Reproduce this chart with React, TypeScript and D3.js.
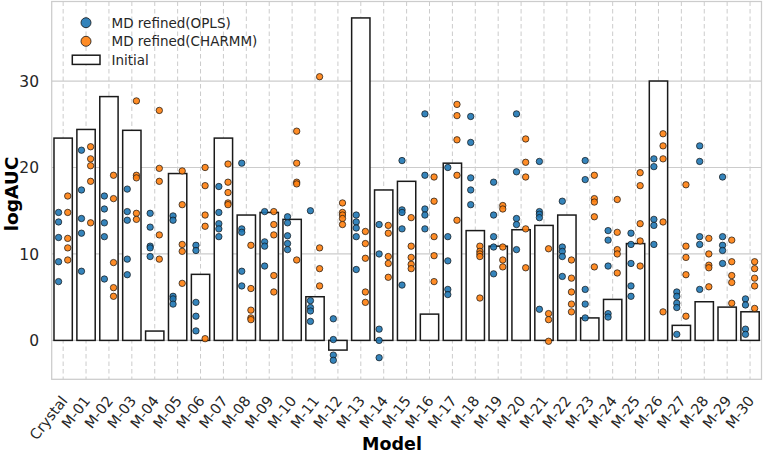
import React from "react";
import * as d3 from "d3";

const categories = ["Crystal","M-01","M-02","M-03","M-04","M-05","M-06","M-07","M-08","M-09","M-10","M-11","M-12","M-13","M-14","M-15","M-16","M-17","M-18","M-19","M-20","M-21","M-22","M-23","M-24","M-25","M-26","M-27","M-28","M-29","M-30"];

const initialValues = [23.4, 24.4, 28.2, 24.3, 1.08, 19.3, 7.64, 23.4, 14.5, 14.8, 14.0, 5.05, -1.12, 37.3, 17.4, 18.4, 3.04, 20.5, 12.7, 10.9, 12.8, 13.3, 14.5, 2.6, 4.74, 11.2, 30.0, 1.74, 4.47, 3.85, 3.31];

const oplsValues = [
  [14.8, 13.7, 11.9, 9.1, 6.8],
  [22.0, 17.4, 14.1, 12.4, 8.0],
  [16.7, 15.2, 13.6, 12.0, 7.1],
  [17.5, 14.9, 13.9, 9.4, 7.6],
  [14.7, 13.1, 10.9, 10.7, 9.7],
  [14.4, 13.9, 5.1, 4.8, 4.2],
  [11.0, 10.4, 4.4, 2.8, 1.1],
  [17.8, 14.8, 13.5, 12.9, 12.0],
  [20.5, 12.9, 12.5, 8.0, 6.3],
  [14.9, 11.4, 10.9, 8.6],
  [14.3, 13.6, 12.1, 11.2, 10.5],
  [15.0, 4.6, 3.8, 3.4, 2.2],
  [2.5, 0.1, -1.7, -2.3],
  [14.5, 13.7, 13.0, 12.0, 8.2],
  [13.4, 10.0, 1.3, 0.0, -2.0],
  [20.8, 15.1, 14.8, 12.9, 6.4],
  [26.2, 19.1, 15.2, 14.5, 12.9],
  [20.0, 12.0, 9.2, 5.9, 5.3],
  [25.9, 22.9, 18.8, 17.4, 15.7],
  [18.3, 14.5, 12.0, 10.8, 7.7],
  [26.2, 19.5, 14.1, 13.4, 10.5],
  [20.7, 14.9, 14.6, 14.2, 3.6],
  [16.1, 10.8, 10.3, 9.7, 7.4],
  [20.8, 18.6, 5.9, 4.2, 2.6],
  [12.7, 11.6, 8.6, 3.1, 2.7],
  [12.4, 11.1, 8.9, 6.3, 5.1],
  [21.0, 20.1, 14.0, 13.3, 11.1],
  [5.6, 5.1, 4.3, 3.8, 0.7],
  [22.5, 20.7, 12.0, 11.1, 5.9],
  [18.9, 12.0, 11.0, 10.4, 8.9],
  [4.8, 4.1, 1.3, 0.7],
];

const charmmValues = [
  [16.7, 14.8, 11.8, 10.7, 9.3],
  [22.4, 21.0, 20.2, 18.4, 13.6],
  [19.1, 16.4, 9.0, 6.1, 5.1],
  [27.7, 19.1, 18.8, 14.7, 14.0],
  [26.6, 19.9, 18.4, 12.2, 9.4],
  [19.6, 15.7, 11.1, 10.3, 6.6],
  [20.0, 17.9, 14.5, 13.2, 0.2],
  [20.4, 18.3, 17.1, 15.9, 15.7],
  [11.0, 6.0, 3.5, 2.6, 2.4],
  [14.9, 13.4, 12.2, 7.5, 5.6],
  [24.2, 20.5, 18.3, 18.1, 9.3],
  [30.5, 10.7, 8.3, 6.3],
  [15.9, 14.8, 14.5, 14.1, 13.4],
  [12.6, 11.2, 9.5, 5.6, 4.4],
  [13.3, 12.4, 9.7, 8.9, 7.3],
  [14.2, 10.9, 9.6, 8.8, 8.3],
  [18.9, 16.1, 12.0, 9.8, 6.8],
  [27.3, 26.0, 23.2, 19.1, 13.9],
  [10.9, 10.3, 10.0, 9.7, 4.9],
  [15.6, 15.2, 10.8, 9.3, 8.5],
  [23.3, 20.6, 18.9, 12.9, 8.4],
  [10.6, 3.1, 2.4, -0.1],
  [9.3, 7.2, 5.6, 4.2, 3.3],
  [19.1, 16.4, 16.0, 14.3, 8.5],
  [16.3, 12.5, 10.5, 10.0, 7.8],
  [19.4, 17.9, 13.5, 11.5, 8.6],
  [23.9, 22.5, 21.0, 13.7, 3.3],
  [18.0, 10.9, 9.6, 7.6, 2.8],
  [11.8, 10.0, 8.7, 8.4, 6.2],
  [11.6, 9.1, 7.5, 6.7, 4.3],
  [9.1, 8.3, 7.2, 6.3, 3.7],
];

const yTicks = [0, 10, 20, 30];
const seriesNames = ["MD refined(OPLS)", "MD refined(CHARMM)", "Initial"];

const W = 763;
const H = 452;
const plotLeft = 51.7;
const plotRight = 761.5;
const plotTop = 1.5;
const plotBottom = 379.3;

const BLUE = "#1f77b4";
const ORANGE = "#ff7f0e";
const TEXT = "#262626";
const GRID = "#cccccc";
const FONT = "DejaVu Sans, sans-serif";

export default function App() {
  const x = d3.scaleLinear().domain([-0.5, categories.length - 0.5]).range([plotLeft, plotRight]);
  const y = d3.scaleLinear().domain([-4.5, 39.2]).range([plotBottom, plotTop]);
  const step = x(1) - x(0);
  const barW = step * 0.8;
  const dodge = 0.2;

  return (
    <svg width={W} height={H} style={{ position: "absolute", left: 0, top: 0 }} fontFamily={FONT}>
      <rect x={0} y={0} width={W} height={H} fill="#fff" />
      {/* horizontal grid */}
      {yTicks.map((t) => (
        <line key={"hg" + t} x1={plotLeft} x2={plotRight} y1={y(t)} y2={y(t)} stroke={GRID} strokeWidth={1.2} />
      ))}
      {/* vertical dashed grid */}
      {categories.map((c, i) => (
        <line key={"vg" + c} x1={x(i)} x2={x(i)} y1={plotTop} y2={plotBottom} stroke={GRID} strokeWidth={1} strokeDasharray="4.5,3" />
      ))}
      {/* bars */}
      {initialValues.map((v, i) => (
        <rect
          key={"b" + i}
          x={x(i) - barW / 2}
          y={Math.min(y(v), y(0))}
          width={barW}
          height={Math.abs(y(v) - y(0))}
          fill="#fff"
          stroke="#1a1a1a"
          strokeWidth={1.5}
        />
      ))}
      {/* points */}
      {oplsValues.map((arr, i) =>
        arr.map((v, j) => (
          <circle key={`o${i}-${j}`} cx={x(i - dodge)} cy={y(v)} r={3.2} fill={BLUE} fillOpacity={0.9} stroke="#111" strokeWidth={0.7} />
        ))
      )}
      {charmmValues.map((arr, i) =>
        arr.map((v, j) => (
          <circle key={`c${i}-${j}`} cx={x(i + dodge)} cy={y(v)} r={3.2} fill={ORANGE} fillOpacity={0.9} stroke="#111" strokeWidth={0.7} />
        ))
      )}
      {/* frame */}
      <rect x={plotLeft} y={plotTop} width={plotRight - plotLeft} height={plotBottom - plotTop} fill="none" stroke={GRID} strokeWidth={1.25} />
      {/* y ticks */}
      {yTicks.map((t) => (
        <text key={"yt" + t} x={39} y={y(t)} dy="0.36em" textAnchor="end" fontSize={15.5} fill={TEXT}>
          {t}
        </text>
      ))}
      {/* x ticks */}
      {categories.map((c, i) => (
        <text
          key={"xt" + c}
          transform={`translate(${x(i) + 5},${401}) rotate(-52)`}
          textAnchor="end"
          fontSize={14.5}
          fill={TEXT}
        >
          {c}
        </text>
      ))}
      {/* axis labels */}
      <text transform={`translate(17.5,194) rotate(-90)`} textAnchor="middle" fontSize={18.5} fontWeight="bold" fill="#000">
        logAUC
      </text>
      <text x={392} y={449.5} textAnchor="middle" fontSize={17.5} fontWeight="bold" fill="#000">
        Model
      </text>
      {/* legend */}
      <g>
        <circle cx={86} cy={22.7} r={5} fill={BLUE} fillOpacity={0.9} stroke="#111" strokeWidth={0.8} />
        <circle cx={86} cy={41.3} r={5} fill={ORANGE} fillOpacity={0.9} stroke="#111" strokeWidth={0.8} />
        <rect x={72.3} y={55.2} width={27.7} height={9.2} fill="#fff" stroke="#1a1a1a" strokeWidth={1.5} />
        {seriesNames.map((s, k) => (
          <text key={s} x={111.5} y={[22.7, 41.3, 60][k]} dy="0.36em" fontSize={13.5} fill={TEXT}>
            {s}
          </text>
        ))}
      </g>
    </svg>
  );
}
